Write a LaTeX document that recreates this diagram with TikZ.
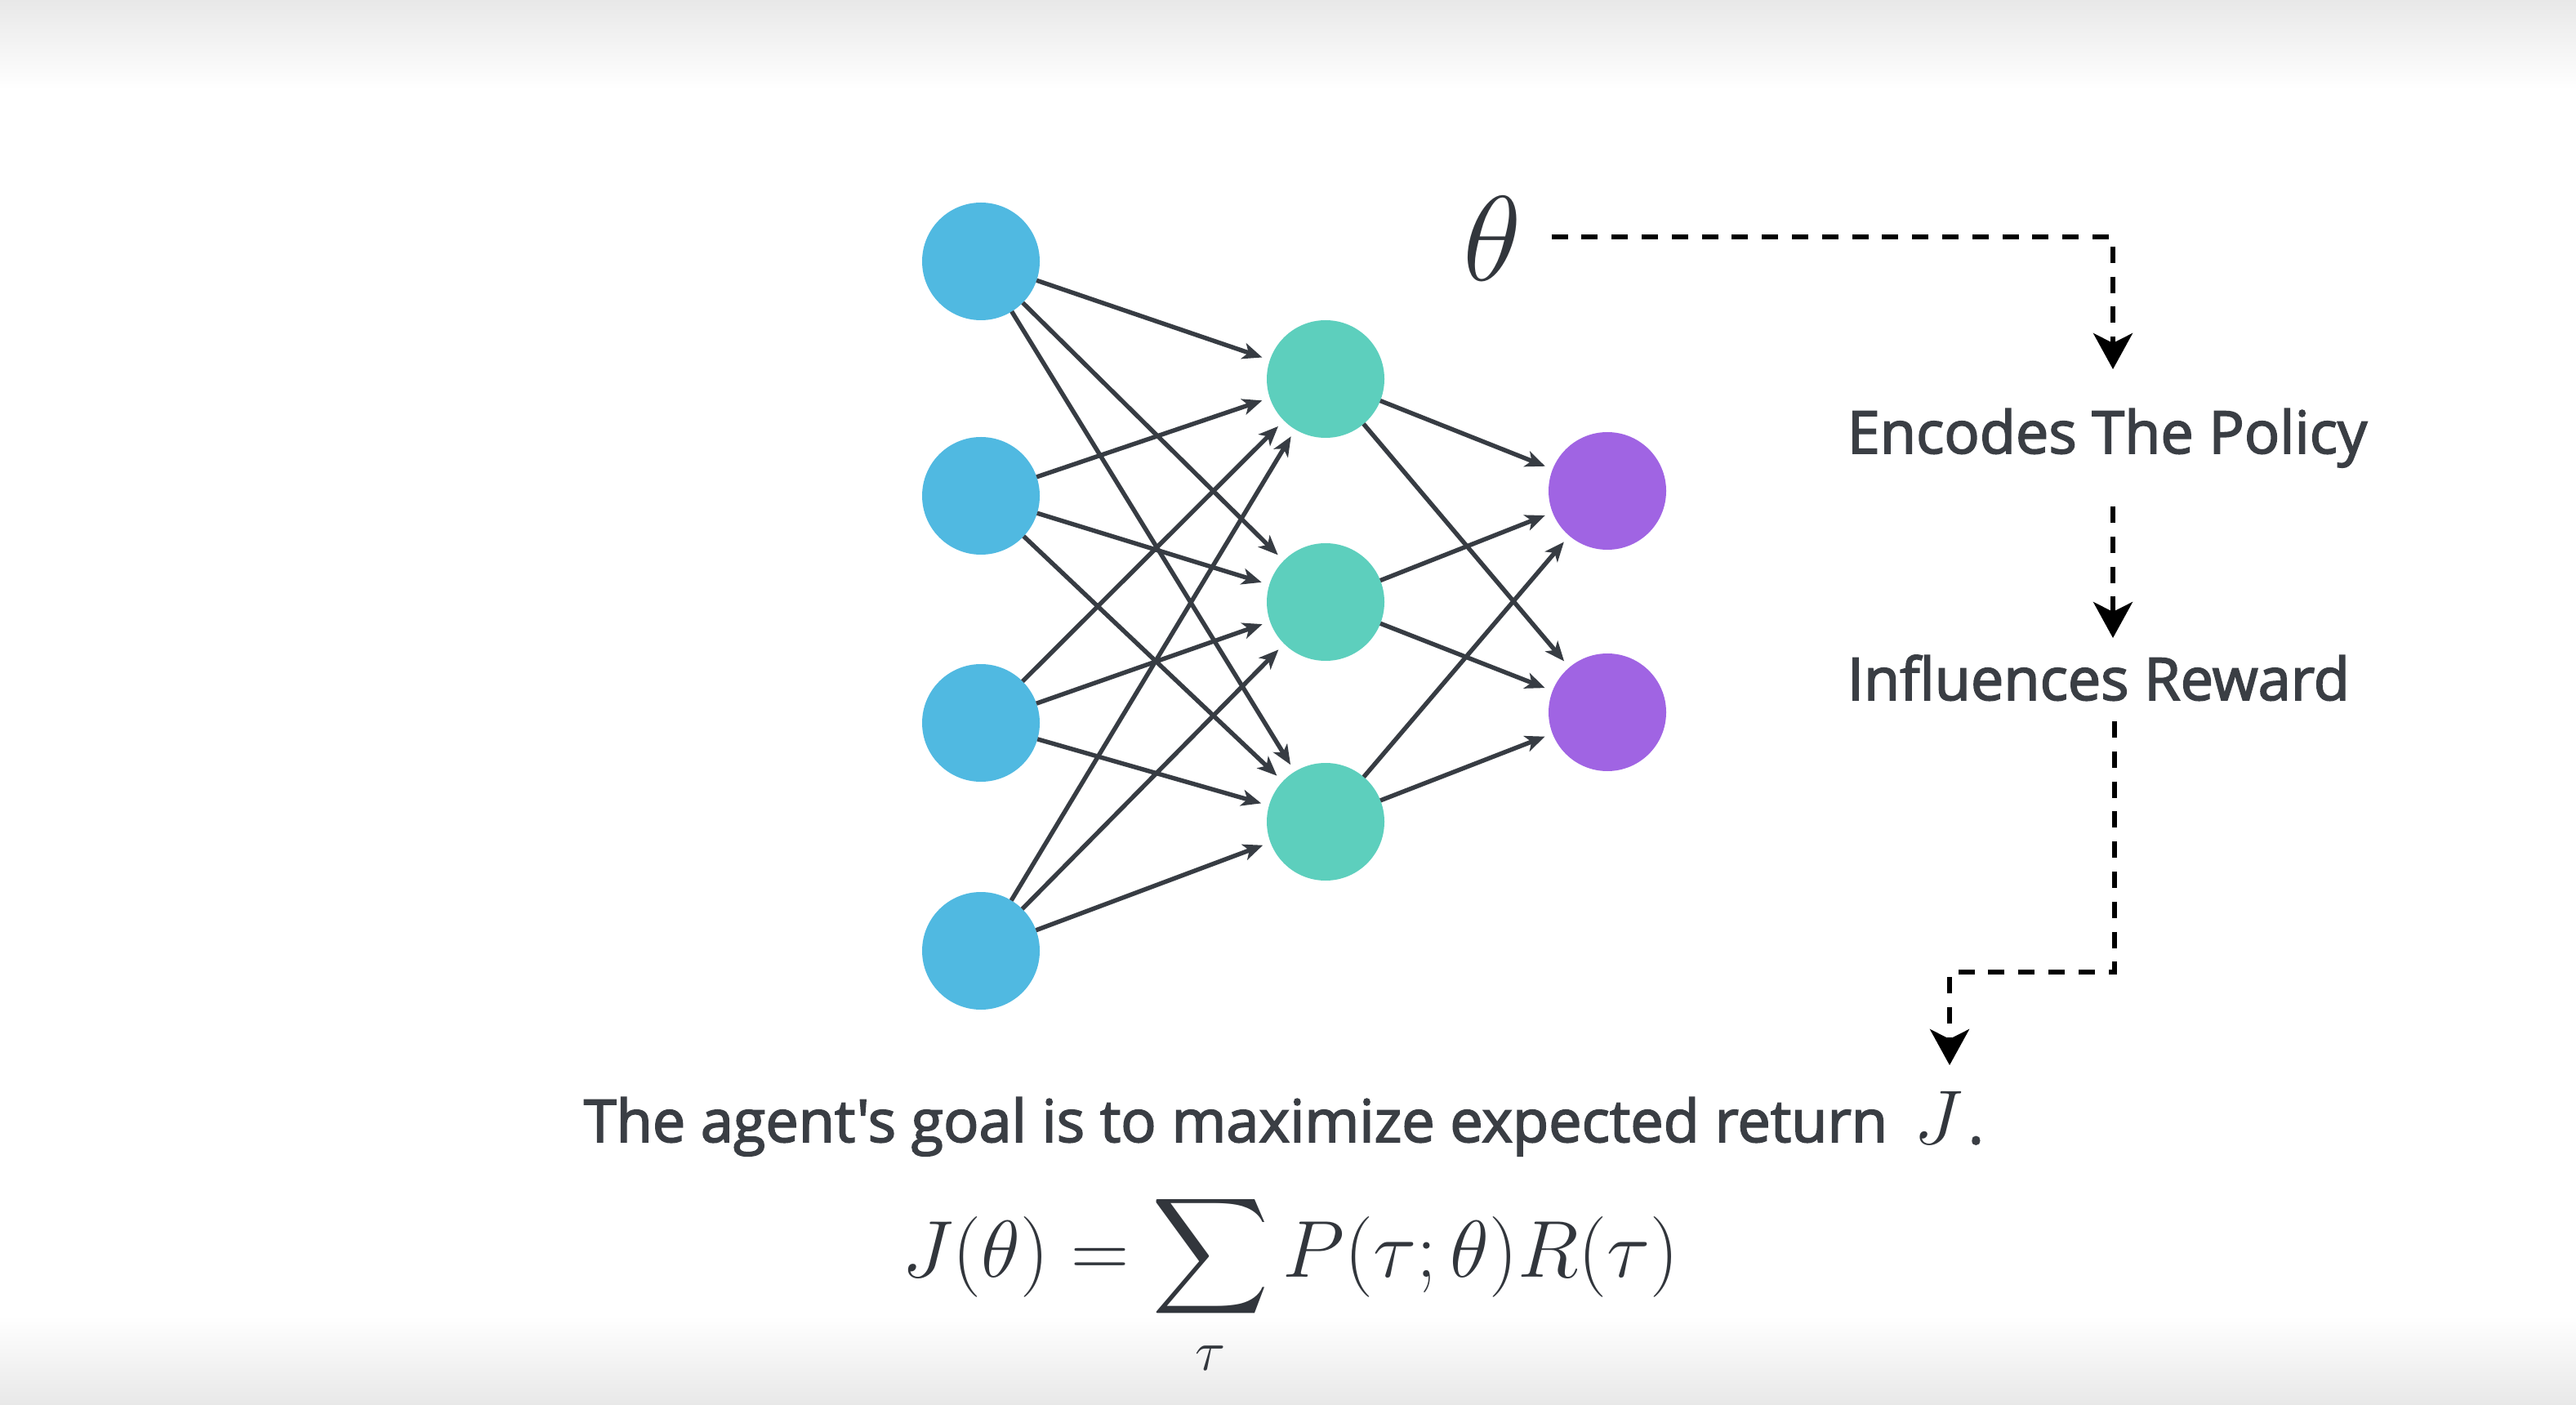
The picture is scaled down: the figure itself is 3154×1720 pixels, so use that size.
\RequirePackage{fix-cm}
\documentclass[tikz,border=0pt]{standalone}
\usepackage{amsmath}
\usepackage[no-math]{fontspec}
\setmainfont{Open Sans}
\newfontfamily\semib{Open Sans}[FakeBold=2.4]
\usetikzlibrary{arrows.meta}
\definecolor{cin}{RGB}{80,185,225}
\definecolor{chid}{RGB}{93,207,189}
\definecolor{cout}{RGB}{160,100,227}
\definecolor{cedge}{RGB}{55,60,67}
\definecolor{ctext}{RGB}{58,62,68}
\definecolor{cmath}{RGB}{50,54,60}
\begin{document}
\begin{tikzpicture}[x=0.25pt,y=-0.25pt,
  neuron/.style={circle,minimum size=36pt,inner sep=0pt,outer sep=0pt},
  inp/.style={neuron,fill=cin},
  hid/.style={neuron,fill=chid},
  outn/.style={neuron,fill=cout},
  edge/.style={draw=cedge,line width=1.35pt,-{Stealth[length=6pt,width=5pt,inset=1.6pt]},shorten >=2.5pt},
  flow/.style={draw=black,line width=1.3pt,dash pattern=on 5pt off 4.2pt,-{Stealth[length=11pt,width=12pt,inset=3pt]}},
  lbl/.style={text=ctext,font=\semib\fontsize{18}{22}\selectfont,anchor=base west,inner sep=0pt}
]
\useasboundingbox (0,0) rectangle (3154,1720);
\fill[white] (0,0) rectangle (3154,1720);
\shade[top color=black!9,bottom color=white] (0,0) rectangle (3154,110);
\shade[top color=white,bottom color=black!9] (0,1610) rectangle (3154,1720);

% neurons
\node[inp] (i1) at (1201,320) {};
\node[inp] (i2) at (1201,607) {};
\node[inp] (i3) at (1201,885) {};
\node[inp] (i4) at (1201,1164) {};
\node[hid] (h1) at (1623,464) {};
\node[hid] (h2) at (1623,737) {};
\node[hid] (h3) at (1623,1006) {};
\node[outn] (o1) at (1968,601) {};
\node[outn] (o2) at (1968,872) {};

\foreach \a in {i1,i2,i3,i4}{
  \foreach \b in {h1,h2,h3}{
    \draw[edge] (\a) -- (\b);
  }
}
\foreach \a in {h1,h2,h3}{
  \foreach \b in {o1,o2}{
    \draw[edge] (\a) -- (\b);
  }
}

% theta and flow
\node[text=cmath,font=\fontsize{37}{40}\selectfont,inner xsep=9pt,inner ysep=0pt] (theta) at (1827,292) {$\theta$};
\node[lbl] (enc) at (2261,555) {Encodes The Policy};
\node[lbl] (inf) at (2261,857) {Influences Reward};
\coordinate (c1) at (2587,290);
\coordinate (t1) at (2587,452);
\coordinate (s2) at (2587,620);
\coordinate (t2) at (2587,781);
\coordinate (s3) at (2589,883);
\coordinate (c3) at (2589,1190);
\coordinate (c4) at (2387,1190);
\coordinate (t3) at (2387,1304);
\draw[flow] (theta.east |- c1) -- (c1) -- (t1);
\draw[flow] (s2) -- (t2);
\draw[flow] (s3) -- (c3) -- (c4) -- (t3);

% sentence
\node[lbl,font=\semib\fontsize{18}{22}\selectfont] (goal) at (714,1398) {The agent{\char"27}s goal is to maximize expected return};
\node[text=cmath,font=\fontsize{23.5}{26}\selectfont,anchor=base west,inner sep=0pt] (jj) at (2343,1400) {$J$};
\node[lbl,font=\semib\fontsize{18}{22}\selectfont] (dot) at (2409,1400) {.};

% equation
\node[text=cmath,font=\fontsize{24.7}{30}\selectfont,anchor=base,inner sep=0pt] (eq) at (1580,1563)
  {$\displaystyle J(\theta) = \sum_{\tau} P(\tau;\theta)R(\tau)$};
\end{tikzpicture}
\end{document}
